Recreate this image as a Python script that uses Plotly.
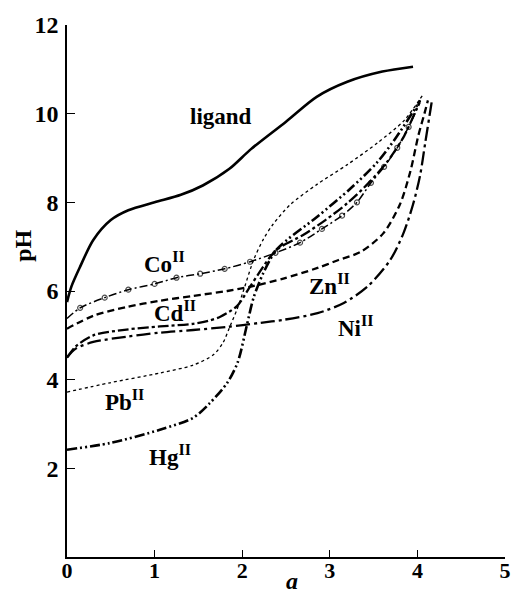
import plotly.graph_objects as go

# ---- data ----
lig_x = [0, 0.05, 0.15, 0.3, 0.5, 0.7, 1.0, 1.3, 1.55, 1.85, 2.1, 2.5, 2.85, 3.2, 3.6, 3.95]
lig_y = [5.75, 6.1, 6.55, 7.15, 7.6, 7.82, 8.0, 8.17, 8.38, 8.75, 9.2, 9.82, 10.38, 10.72, 10.95, 11.06]

co_x = [0, 0.15, 0.43, 0.7, 1.0, 1.25, 1.52, 1.8, 2.09, 2.38, 2.66, 2.91, 3.14, 3.31, 3.47, 3.62, 3.77, 3.9, 4.03]
co_y = [5.38, 5.62, 5.85, 6.03, 6.16, 6.3, 6.39, 6.5, 6.66, 6.86, 7.09, 7.4, 7.7, 8.0, 8.44, 8.8, 9.23, 9.7, 10.25]

zn_x = [0, 0.3, 0.68, 1.06, 1.44, 1.83, 2.1, 2.47, 2.86, 3.1, 3.35, 3.61, 3.8, 3.92, 4.01, 4.08, 4.12]
zn_y = [5.15, 5.44, 5.64, 5.78, 5.89, 6.0, 6.1, 6.28, 6.52, 6.7, 6.88, 7.3, 7.95, 8.7, 9.5, 10.0, 10.3]

cd_x = [0, 0.1, 0.3, 0.68, 1.06, 1.44, 1.6, 1.75, 1.94, 2.09, 2.2, 2.32, 2.42, 2.7, 2.95, 3.2, 3.45, 3.65, 3.85, 4.03]
cd_y = [4.5, 4.75, 5.0, 5.13, 5.2, 5.26, 5.32, 5.42, 5.66, 6.1, 6.43, 6.77, 6.97, 7.27, 7.6, 7.98, 8.45, 8.9, 9.5, 10.3]

ni_x = [0, 0.1, 0.3, 0.68, 1.06, 1.44, 1.83, 2.2, 2.47, 2.86, 3.16, 3.43, 3.69, 3.84, 3.95, 4.03, 4.09, 4.15, 4.17]
ni_y = [4.5, 4.7, 4.85, 4.97, 5.06, 5.12, 5.19, 5.28, 5.35, 5.5, 5.73, 6.1, 6.7, 7.3, 7.95, 8.6, 9.35, 10.1, 10.35]

pb_x = [0, 0.49, 1.06, 1.44, 1.67, 1.78, 1.86, 1.94, 2.01, 2.13, 2.24, 2.35, 2.55, 2.85, 3.2, 3.55, 3.85, 4.07]
pb_y = [3.72, 3.93, 4.15, 4.33, 4.56, 4.83, 5.2, 5.58, 5.98, 6.7, 7.16, 7.5, 7.95, 8.4, 8.85, 9.35, 9.85, 10.45]

hg_x = [0, 0.49, 1.06, 1.44, 1.63, 1.83, 1.95, 2.05, 2.13, 2.24, 2.4, 2.86, 3.23, 3.54, 3.77, 4.0, 4.03]
hg_y = [2.42, 2.57, 2.87, 3.14, 3.47, 3.93, 4.4, 5.2, 5.85, 6.4, 6.95, 7.68, 8.3, 8.9, 9.5, 10.2, 10.3]

x_ticks = [0, 1, 2, 3, 4, 5]
y_ticks = [2, 4, 6, 8, 10, 12]

labels = ["ligand", "Co<sup>II</sup>", "Cd<sup>II</sup>", "Zn<sup>II</sup>", "Ni<sup>II</sup>", "Pb<sup>II</sup>", "Hg<sup>II</sup>"]
label_x = [1.76, 1.11, 1.23, 3.0, 3.3, 0.66, 1.18]
label_y = [9.93, 6.65, 5.53, 6.14, 5.19, 3.54, 2.3]

FONT = "Liberation Serif"

fig = go.Figure()

def add_line(x, y, dash, width, mode="lines", marker=None):
    fig.add_trace(go.Scatter(
        x=x, y=y, mode=mode,
        line=dict(color="black", width=width, dash=dash, shape="spline", smoothing=0.8),
        marker=marker, showlegend=False, hoverinfo="skip"))

add_line(lig_x, lig_y, "solid", 2.6)
add_line(pb_x, pb_y, "3px,3px", 1.3)
add_line(zn_x, zn_y, "7px,4px", 2.3)
add_line(ni_x, ni_y, "14px,4px,3px,4px", 2.3)
add_line(cd_x, cd_y, "11px,3px,3px,3px", 2.3)
add_line(hg_x, hg_y, "10px,3px,2px,3px,2px,3px", 2.6)
co_sizes = [0] + [5] * (len(co_x) - 2) + [0]
add_line(co_x, co_y, "8px,3px,2px,3px", 1.5, mode="lines+markers",
         marker=dict(symbol="circle-open", size=co_sizes, color="black", line=dict(width=1.2)))

for t, lx, ly in zip(labels, label_x, label_y):
    fig.add_annotation(x=lx, y=ly, xref="x", yref="y", text="<b>" + t + "</b>", showarrow=False,
                       xanchor="center", yanchor="middle",
                       font=dict(family=FONT, size=23, color="black"))

# axis titles
fig.add_annotation(x=2.57, y=0, xref="x", yref="paper", yshift=-24, text="<b><i>a</i></b>",
                   xanchor="center", yanchor="middle",
                   showarrow=False, font=dict(family=FONT, size=24, color="black"))
fig.add_annotation(x=0, y=7.02, xref="paper", yref="y", xshift=-44,
                   text="<b>pH</b>", textangle=-90, showarrow=False,
                   xanchor="center", yanchor="middle",
                   font=dict(family=FONT, size=24, color="black"))

fig.update_xaxes(range=[0, 5], tickvals=x_ticks, ticktext=["<b>%d</b>" % v for v in x_ticks],
                 showgrid=False, zeroline=False, showline=True, linecolor="black", linewidth=1.5,
                 ticks="inside", ticklen=7, tickwidth=1.2, tickcolor="black", automargin=False,
                 tickfont=dict(family=FONT, size=22, color="black"), ticklabelstandoff=-7)
fig.update_yaxes(range=[0, 12], tickvals=y_ticks, ticktext=["<b>%d</b>" % v for v in y_ticks],
                 showgrid=False, zeroline=False, showline=True, linecolor="black", linewidth=1.5,
                 ticks="inside", ticklen=8, tickwidth=1.2, tickcolor="black", automargin=False,
                 tickfont=dict(family=FONT, size=24, color="black"), ticklabelstandoff=2)

fig.update_layout(width=520, height=597, margin=dict(l=67, r=15, t=25, b=40),
                  paper_bgcolor="white", plot_bgcolor="white")

fig.write_html("out.html")
